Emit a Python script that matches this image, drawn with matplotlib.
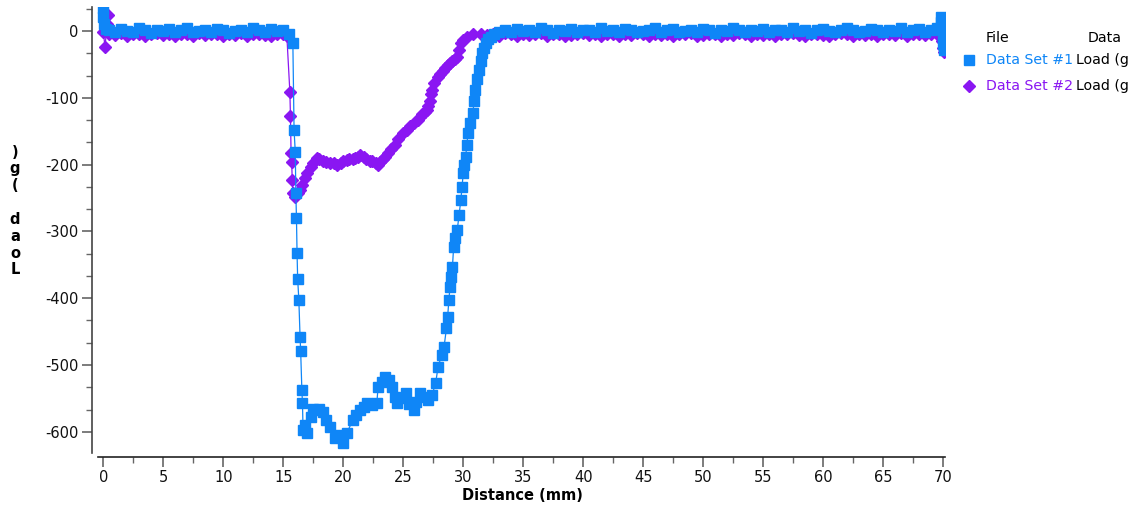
import matplotlib
matplotlib.use("Agg")
import matplotlib.pyplot as plt
from matplotlib.lines import Line2D
from matplotlib.ticker import MultipleLocator

# Data Set #1 (blue)
blue_x = [0.0, 0.0, 0.1, 0.2,
          0.5, 1.0, 1.5, 2.0, 2.5, 3.0, 3.5, 4.0, 4.5, 5.0, 5.5, 6.0, 6.5, 7.0, 7.5, 8.0,
          8.5, 9.0, 9.5, 10.0, 10.5, 11.0, 11.5, 12.0, 12.5, 13.0, 13.5, 14.0, 14.5, 15.0, 15.5,
          15.8, 15.9, 16.0, 16.05, 16.1, 16.15, 16.2, 16.3, 16.4, 16.45, 16.55, 16.6, 16.65, 16.8,
          17.0, 17.3, 17.5, 17.7, 18.0, 18.3, 18.6, 18.9, 19.3, 19.6, 20.0, 20.3, 20.8, 21.1,
          21.4, 21.7, 22.0, 22.4, 22.8, 22.9, 23.2, 23.5, 23.8, 24.1, 24.3, 24.5, 24.8, 25.2,
          25.5, 25.9, 26.1, 26.4, 26.7, 27.1, 27.4, 27.7, 27.9, 28.2, 28.4, 28.6, 28.7, 28.8,
          28.9, 29.0, 29.1, 29.2, 29.35, 29.5, 29.65, 29.8, 29.9, 30.0, 30.1, 30.2, 30.3, 30.4,
          30.6, 30.8, 30.9, 31.0, 31.15, 31.3, 31.45, 31.6, 31.75, 31.9, 32.1, 32.3, 32.6, 33.0,
          33.5, 34.0, 34.5, 35.0, 35.5, 36.0, 36.5, 37.0, 37.5, 38.0, 38.5, 39.0, 39.5, 40.0,
          40.5, 41.0, 41.5, 42.0, 42.5, 43.0, 43.5, 44.0, 44.5, 45.0, 45.5, 46.0, 46.5, 47.0,
          47.5, 48.0, 48.5, 49.0, 49.5, 50.0, 50.5, 51.0, 51.5, 52.0, 52.5, 53.0, 53.5, 54.0,
          54.5, 55.0, 55.5, 56.0, 56.5, 57.0, 57.5, 58.0, 58.5, 59.0, 59.5, 60.0, 60.5, 61.0,
          61.5, 62.0, 62.5, 63.0, 63.5, 64.0, 64.5, 65.0, 65.5, 66.0, 66.5, 67.0, 67.5, 68.0,
          68.5, 69.0, 69.5,
          69.7, 69.8, 69.85, 69.9, 69.95, 70.0, 70.05]
blue_y = [34, 21, 10, 3,
          2, -1, 3, 0, -2, 4, 1, -3, 2, 0, 3, -1, 1, 4, -2, 0,
          2, -1, 3, 1, -3, 0, 2, -2, 4, 1, -1, 3, 0, 2, -4,
          -18, -148, -181, -243, -280, -333, -371, -403, -458, -479, -537, -557, -597, -590,
          -602, -578, -566, -567, -566, -570, -582, -593, -609, -605, -617, -602, -582, -575,
          -567, -563, -557, -560, -557, -533, -525, -518, -522, -533, -548, -557, -550, -542,
          -558, -567, -555, -542, -548, -552, -545, -527, -503, -485, -473, -445, -428, -403,
          -383, -368, -353, -323, -310, -298, -275, -253, -233, -213, -200, -189, -170, -153,
          -138, -123, -105, -88, -72, -58, -45, -33, -25, -18, -12, -9, -5, -2,
          1, -2, 3, 0, 2, -1, 4, 1, -3, 2, 0, 3, -1, 2,
          1, -2, 4, 0, 2, -1, 3, 1, -2, 0, 2, 4, -1, 1,
          3, -2, 0, 2, -1, 3, 1, -3, 2, 0, 4, 1, -1, 2,
          0, 3, -2, 1, 2, -1, 4, 0, 2, -3, 1, 3, 0, -1,
          2, 4, 1, -2, 0, 3, 1, -1, 2, 0, 4, -2, 1, 3,
          -1, 2, 5,
          4, 21, 14, 2, -10, -20, -28]

# Data Set #2 (purple)
purple_x = [0.0, 0.15, 0.3, 0.4, 0.45,
            0.5, 1.0, 1.5, 2.0, 2.5, 3.0, 3.5, 4.0, 4.5, 5.0, 5.5, 6.0, 6.5, 7.0, 7.5,
            8.0, 8.5, 9.0, 9.5, 10.0, 10.5, 11.0, 11.5, 12.0, 12.5, 13.0, 13.5, 14.0, 14.5, 15.0,
            15.3, 15.55, 15.6, 15.65, 15.7, 15.75, 15.8, 16.0, 16.2, 16.4, 16.6, 16.8,
            17.0, 17.3, 17.5, 17.8, 18.0, 18.3, 18.6, 18.9, 19.2, 19.5, 19.8, 20.0, 20.3, 20.5,
            20.8, 21.0, 21.2, 21.4, 21.7, 21.9, 22.2, 22.4, 22.7, 22.9, 23.1, 23.3, 23.5, 23.7,
            24.0, 24.3, 24.6, 25.0, 25.3, 25.6, 25.9, 26.2, 26.4, 26.6, 26.8, 27.0, 27.1, 27.2,
            27.3, 27.4, 27.6, 27.9, 28.1, 28.3, 28.5, 28.7, 28.9, 29.1, 29.3, 29.5, 29.65, 29.8,
            30.0, 30.3, 30.8,
            31.5, 32.0, 32.5, 33.0, 33.5, 34.0, 34.5, 35.0, 35.5, 36.0, 36.5, 37.0, 37.5, 38.0,
            38.5, 39.0, 39.5, 40.0, 40.5, 41.0, 41.5, 42.0, 42.5, 43.0, 43.5, 44.0, 44.5, 45.0,
            45.5, 46.0, 46.5, 47.0, 47.5, 48.0, 48.5, 49.0, 49.5, 50.0, 50.5, 51.0, 51.5, 52.0,
            52.5, 53.0, 53.5, 54.0, 54.5, 55.0, 55.5, 56.0, 56.5, 57.0, 57.5, 58.0, 58.5, 59.0,
            59.5, 60.0, 60.5, 61.0, 61.5, 62.0, 62.5, 63.0, 63.5, 64.0, 64.5, 65.0, 65.5, 66.0,
            66.5, 67.0, 67.5, 68.0, 68.5, 69.0, 69.5,
            69.7, 69.8, 69.9, 70.0, 70.05]
purple_y = [-2, -24, 10, 24, -3,
            -4, -6, -3, -7, -5, -4, -8, -5, -3, -6, -5, -7, -4, -5, -8,
            -3, -6, -5, -4, -7, -5, -6, -3, -8, -5, -4, -6, -7, -5, -4,
            -8, -91, -127, -183, -196, -223, -243, -248, -243, -238, -230, -220,
            -212, -203, -197, -190, -192, -194, -196, -197, -198, -200, -197, -195, -193, -192,
            -191, -190, -188, -186, -189, -192, -194, -195, -198, -200, -196, -192, -188, -183,
            -177, -170, -162, -153, -148, -142, -137, -133, -129, -125, -121, -118, -112, -105,
            -95, -88, -78, -69, -64, -60, -55, -51, -48, -45, -42, -39, -28, -18,
            -13, -9, -5,
            -4, -6, -5, -8, -3, -5, -7, -4, -6, -5, -3, -7, -5, -4,
            -8, -6, -5, -3, -6, -4, -7, -5, -5, -8, -4, -6, -3, -5,
            -7, -4, -6, -5, -8, -4, -5, -3, -7, -6, -5, -4, -8, -5,
            -6, -3, -5, -7, -4, -6, -5, -8, -4, -5, -3, -6, -7, -5,
            -4, -6, -8, -5, -3, -5, -7, -4, -6, -5, -8, -4, -5, -6,
            -3, -7, -5, -4, -6, -5, -4,
            -5, 8, -15, -25, -31]

assert len(blue_x) == len(blue_y)
assert len(purple_x) == len(purple_y)

series_names = ["Data Set #1", "Data Set #2"]
column_name = "Load (g"
blue = "#0f86f7"
purple = "#8a16f2"

plt.rcParams['font.family'] = ['DejaVu Sans']
plt.rcParams['axes.unicode_minus'] = False

W, H = 1136, 507
fig = plt.figure(figsize=(W / 100, H / 100), dpi=100)
ax = fig.add_axes([92 / W, (H - 453) / H, (945 - 92) / W, (453 - 7) / H])

ax.plot(purple_x, purple_y, color=purple, lw=0.9, marker="D", ms=6.5,
        mfc=purple, mec=purple, zorder=2)
ax.plot(blue_x, blue_y, color=blue, lw=0.9, marker="s", ms=7.5,
        mfc=blue, mec=blue, zorder=3)

ax.set_xlim(-0.94, 70.15)
ax.set_ylim(-631.7, 35.9)

for s in ["top", "right"]:
    ax.spines[s].set_visible(False)
ax.spines["left"].set_color("#444444")
ax.spines["left"].set_linewidth(1.2)
ax.spines["bottom"].set_color("#222222")
ax.spines["bottom"].set_linewidth(1.2)
ax.spines["bottom"].set_position(("outward", 3))
ax.spines["bottom"].set_bounds(-0.45, 70.15)

ax.xaxis.set_major_locator(MultipleLocator(5))
ax.xaxis.set_minor_locator(MultipleLocator(2.5))
ax.yaxis.set_major_locator(MultipleLocator(100))
ax.yaxis.set_minor_locator(MultipleLocator(100 / 3))
ax.tick_params(which="major", length=7.5, width=1.2, color="#666666",
               labelsize=10.5, labelcolor="#111111", pad=2)
ax.tick_params(which="minor", length=4, width=1.0, color="#666666")

fig.text(15 / W, 1 - 211 / H, ")\ng\n(\n \nd\na\no\nL", fontweight="bold",
         ha="center", va="center", fontsize=10.5, linespacing=1.15)
fig.text(522 / W, 1 - 496 / H, "Distance (mm)", fontweight="bold",
         ha="center", va="center", fontsize=10.5)

# legend table at the right
fig.text(986 / W, 1 - 38 / H, "File", ha="left", va="center", fontsize=10.2)
fig.text(1088 / W, 1 - 38 / H, "Data", ha="left", va="center", fontsize=10.2)
for i, (name, col, mk, ms) in enumerate(zip(series_names, [blue, purple], ["s", "D"], [7, 6])):
    yy = 1 - (60 + 26 * i) / H
    fig.add_artist(Line2D([969 / W], [yy], marker=mk, ms=ms, color=col,
                          transform=fig.transFigure))
    fig.text(986 / W, yy, name, color=col, ha="left", va="center", fontsize=10.2)
    fig.text(1076 / W, yy, column_name, ha="left", va="center", fontsize=10.2)

fig.savefig("out.png", dpi=100)
